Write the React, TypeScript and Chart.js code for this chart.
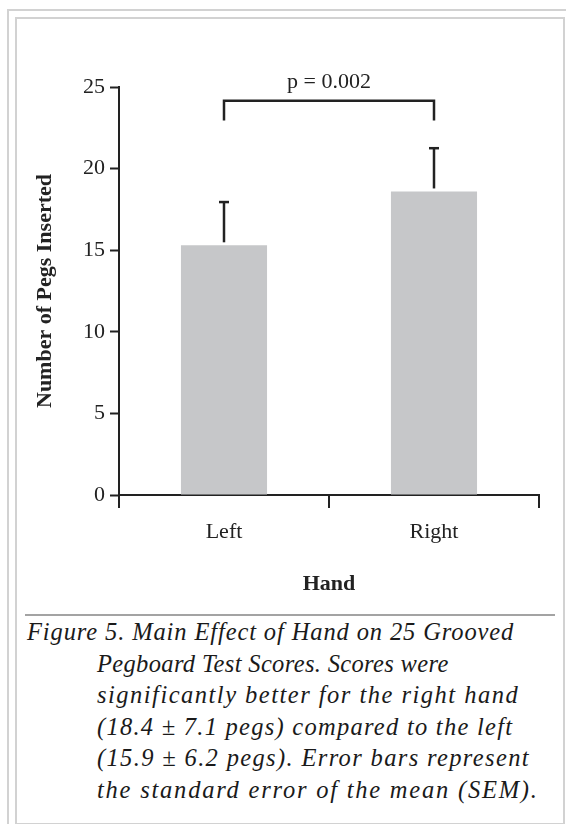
import React, { useEffect, useRef } from "react";
import { Chart, registerables } from "chart.js";

Chart.register(...registerables);

const categories = ["Left", "Right"];
const means = [15.3, 18.6];
const sem = [2.65, 2.65];
const yTickValues = [0, 5, 10, 15, 20, 25];
const pLabel = "p = 0.002";
const bracketLevel = 24.15;
const bracketDrop = 1.2;
const yTitle = "Number of Pegs Inserted";
const xTitle = "Hand";
const captionFirst = "Figure 5. Main Effect of Hand on 25 Grooved";
const captionRest = [
  "Pegboard Test Scores. Scores were",
  "significantly better for the right hand",
  "(18.4 ± 7.1 pegs) compared to the left",
  "(15.9 ± 6.2 pegs). Error bars represent",
  "the standard error of the mean (SEM).",
];
const captionSpacing = [0.88, 0.34, 1.49, 1.26, 1.35, 1.78];

const FAMILY = "'Liberation Serif', 'Times New Roman', serif";
const INK = "#222222";

const annotationPlugin = {
  id: "errorBarsAndBracket",
  afterDatasetsDraw(chart: any) {
    const ctx = chart.ctx as CanvasRenderingContext2D;
    const meta = chart.getDatasetMeta(0);
    const y = chart.scales.y;
    ctx.save();
    ctx.strokeStyle = INK;
    ctx.lineCap = "butt";
    meta.data.forEach((bar: any, i: number) => {
      const x = bar.x;
      const yTop = y.getPixelForValue(means[i] + sem[i]);
      const yBase = y.getPixelForValue(means[i]) - 3;
      ctx.lineWidth = 2.5;
      ctx.beginPath();
      ctx.moveTo(x, yBase);
      ctx.lineTo(x, yTop);
      ctx.stroke();
      ctx.beginPath();
      ctx.moveTo(x - 5, yTop);
      ctx.lineTo(x + 5, yTop);
      ctx.stroke();
    });
    const x0 = meta.data[0].x;
    const x1 = meta.data[1].x;
    const yb = y.getPixelForValue(bracketLevel);
    const yd = y.getPixelForValue(bracketLevel - bracketDrop);
    ctx.lineWidth = 2.5;
    ctx.beginPath();
    ctx.moveTo(x0, yd);
    ctx.lineTo(x0, yb);
    ctx.lineTo(x1, yb);
    ctx.lineTo(x1, yd);
    ctx.stroke();
    ctx.font = `22px ${FAMILY}`;
    ctx.fillStyle = INK;
    ctx.textAlign = "center";
    ctx.textBaseline = "alphabetic";
    ctx.fillText(pLabel, (x0 + x1) / 2, yb - 13);
    ctx.restore();
  },
};

function ChartCanvas() {
  const ref = useRef<HTMLCanvasElement | null>(null);
  useEffect(() => {
    if (!ref.current) return;
    const chart = new Chart(ref.current, {
      type: "bar",
      data: {
        labels: categories,
        datasets: [
          {
            data: means,
            backgroundColor: "#c6c7c9",
            borderWidth: 0,
            categoryPercentage: 1,
            barPercentage: 0.41,
          },
        ],
      },
      options: {
        responsive: false,
        animation: false,
        devicePixelRatio: 1,
        layout: { padding: { left: 0, top: 87, right: 27, bottom: 0 } },
        plugins: { legend: { display: false }, tooltip: { enabled: false } },
        scales: {
          x: {
            offset: true,
            grid: {
              offset: true,
              drawOnChartArea: false,
              drawTicks: true,
              tickLength: 13,
              tickWidth: 2,
              tickColor: INK,
              color: INK,
              lineWidth: 2,
            },
            border: { display: true, color: INK, width: 2 },
            ticks: { color: INK, font: { family: FAMILY, size: 22 }, padding: 11 },
            title: {
              display: true,
              text: xTitle,
              color: INK,
              font: { family: FAMILY, size: 22, weight: "bold" },
              padding: { top: 0, bottom: 2 },
            },
            afterFit: (s: any) => {
              s.height = 105;
            },
          },
          y: {
            min: 0,
            max: 25,
            afterBuildTicks: (s: any) => {
              s.ticks = yTickValues.map((v) => ({ value: v }));
            },
            grid: {
              drawOnChartArea: false,
              drawTicks: true,
              tickLength: 9,
              tickWidth: 2,
              tickColor: INK,
            },
            border: { display: true, color: INK, width: 2 },
            ticks: { color: INK, font: { family: FAMILY, size: 22 }, padding: 5 },
            title: {
              display: true,
              text: yTitle,
              color: INK,
              font: { family: FAMILY, size: 22, weight: "bold" },
              padding: { top: 32, bottom: 0 },
            },
            afterFit: (s: any) => {
              s.width = 119;
            },
          },
        },
      } as any,
      plugins: [annotationPlugin],
    });
    return () => chart.destroy();
  }, []);
  return (
    <canvas
      ref={ref}
      width={566}
      height={600}
      style={{ position: "absolute", left: 0, top: 0, width: 566, height: 600 }}
    />
  );
}

export default function App() {
  const lineH = 31.6;
  const capStyle: React.CSSProperties = {
    position: "absolute",
    whiteSpace: "nowrap",
    fontFamily: FAMILY,
    fontStyle: "italic",
    fontSize: 24.5,
    lineHeight: `${lineH}px`,
    color: "#1a1a1a",
  };
  return (
    <div style={{ position: "absolute", left: 0, top: 0, width: 566, height: 824, overflow: "hidden", background: "#fff" }}>
      <div style={{ position: "absolute", left: 7, top: 9, width: 566, height: 2, background: "#d2d2d2" }} />
      <div style={{ position: "absolute", left: 7, top: 9, width: 2, height: 824, background: "#d2d2d2" }} />
      <div
        style={{
          position: "absolute",
          left: 15,
          top: 17,
          width: 546,
          height: 804,
          border: "2px solid #d2d2d2",
        }}
      />
      <ChartCanvas />
      <div style={{ position: "absolute", left: 25, top: 614, width: 530, height: 2, background: "#a3a3a3" }} />
      <div style={{ ...capStyle, left: 27, top: 616, letterSpacing: captionSpacing[0] }}>{captionFirst}</div>
      {captionRest.map((t, i) => (
        <div
          key={i}
          style={{ ...capStyle, left: 97, top: 616 + (i + 1) * lineH, letterSpacing: captionSpacing[i + 1] }}
        >
          {t}
        </div>
      ))}
    </div>
  );
}
